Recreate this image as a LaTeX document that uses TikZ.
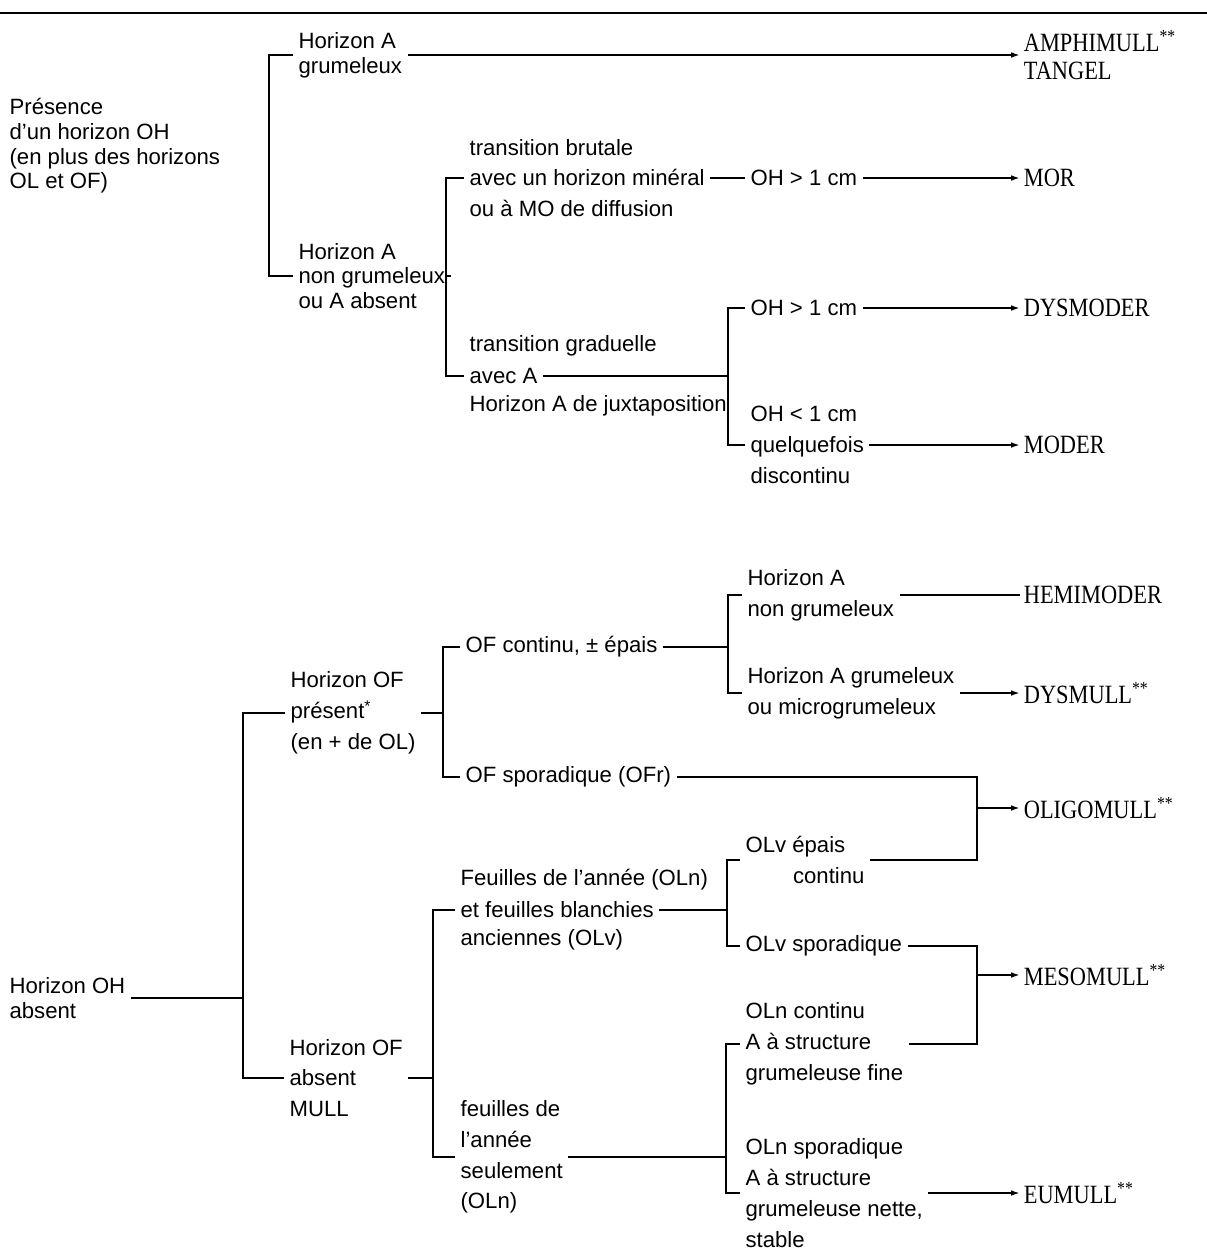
\documentclass[tikz,border=0pt]{standalone}
\usepackage{fontspec}
\setmainfont{Liberation Sans}
\newfontfamily\classfont[FakeStretch=0.85]{Liberation Serif}
\usetikzlibrary{arrows.meta}

\tikzset{
    txt/.style={anchor=west, align=left, inner xsep=3pt, inner ysep=1pt, font=\fontsize{12.6pt}{17.5pt}\selectfont},
    tight/.style={txt, font=\fontsize{12.6pt}{14pt}\selectfont},
    humus/.style={anchor=west, align=left, inner xsep=2pt, inner ysep=1pt, font=\classfont\fontsize{15pt}{16pt}\selectfont},
    link/.style={line width=1.1pt},
    arr/.style={link, -{Latex[length=5pt,width=3.2pt]}}
}

\begin{document}
\begin{tikzpicture}[x=0.02cm, y=-0.02cm]
    \useasboundingbox (0,0) rectangle (1207,1258);
    \draw[line width=1.7pt] (0,13) -- (1207,13);

    % --- avec horizon OH
    \node[tight] (pres) at (4,146) {Présence\\d'un horizon OH\\(en plus des horizons\\OL et OF)};
    \node[tight] (agrum) at (293,55) {Horizon A\\grumeleux};
    \node[tight] (anon) at (293,276) {Horizon A\\non grumeleux\\ou A absent};
    \node[txt] (brut) at (464,178) {transition brutale\\avec un horizon minéral\\ou à MO de diffusion};
    \node[txt] (gradtop) at (464,346) {transition graduelle};
    \node[txt] (grad) at (464,376) {avec A};
    \node[txt] (gradbot) at (464,406) {Horizon A de juxtaposition};
    \node[txt] (ohgt) at (745,178) {OH > 1 cm};
    \node[txt] (ohgtb) at (745,308) {OH > 1 cm};
    \node[txt] (ohlt) at (745,445) {OH < 1 cm\\quelquefois\\discontinu};

    \node[humus] (amphi) at (1020,55) {AMPHIMULL\textsuperscript{**}\\TANGEL};
    \node[humus] (mor) at (1020,178) {MOR};
    \node[humus] (dysmoder) at (1020,308) {DYSMODER};
    \node[humus] (moder) at (1020,445) {MODER};

    \coordinate (b2) at (446,276);
    \coordinate (b3) at (728,376);
    \draw[link] (agrum.west) -- ++(-24,0) |- (anon.west);
    \draw[link] (anon.east) -- (b2);
    \draw[link] (brut.west) -| (b2) |- (grad.west);
    \draw[link] (grad.east) -- (b3);
    \draw[link] (ohgtb.west) -| (b3) |- (ohlt.west);
    \draw[link] (brut.east) -- (ohgt.west);
    \draw[arr] (agrum.east) -- (amphi.west);
    \draw[arr] (ohgt.east) -- (mor.west);
    \draw[arr] (ohgtb.east) -- (dysmoder.west);
    \draw[arr] (ohlt.east) -- (moder.west);

    % --- sans horizon OH
    \node[tight] (ohabs) at (4,998) {Horizon OH\\absent};
    \node[txt] (ofpres) at (285,713) {Horizon OF\\présent\textsuperscript{*}\\(en + de OL)};
    \node[txt] (ofabs) at (284,1078) {Horizon OF\\absent\\MULL};
    \node[txt] (ofcont) at (460,647) {OF continu, ± épais};
    \node[txt] (ofspor) at (460,777) {OF sporadique (OFr)};
    \node[txt] (feuA) at (455,880) {Feuilles de l'année (OLn)};
    \node[txt] (feuB) at (455,910) {et feuilles blanchies};
    \node[txt] (feuC) at (455,940) {anciennes (OLv)};
    \node[txt] (feuseul) at (455,1157) {feuilles de\\l'année\\seulement\\(OLn)};
    \node[txt] (anonB) at (742,595) {Horizon A\\non grumeleux};
    \node[txt] (agrumB) at (742,693) {Horizon A grumeleux\\ou microgrumeleux};
    \node[txt] (olvep) at (740,860) {OLv épais\\\hspace*{0.95cm}continu};
    \node[txt] (olvsp) at (740,946) {OLv sporadique};
    \node[txt] (olncont) at (740,1044) {OLn continu\\A à structure\\grumeleuse fine};
    \node[txt] (olnspor) at (740,1193) {OLn sporadique\\A à structure\\grumeleuse nette,\\stable};

    \node[humus] (hemimoder) at (1020,595) {HEMIMODER};
    \node[humus] (dysmull) at (1020,693) {DYSMULL\textsuperscript{**}};
    \node[humus] (oligomull) at (1020,808) {OLIGOMULL\textsuperscript{**}};
    \node[humus] (mesomull) at (1020,975) {MESOMULL\textsuperscript{**}};
    \node[humus] (eumull) at (1020,1193) {EUMULL\textsuperscript{**}};

    \coordinate (c1) at (243,998);
    \coordinate (c2) at (443,713);
    \coordinate (c3) at (728,647);
    \coordinate (c4) at (433,1078);
    \coordinate (c5) at (727,910);
    \coordinate (c6) at (726,1157);
    \coordinate (j1) at (977,808);
    \coordinate (j2) at (977,975);
    \draw[link] (ohabs.east) -- (c1);
    \draw[link] (ofpres.west) -| (c1) |- (ofabs.west);
    \draw[link] (ofpres.east) -- (c2);
    \draw[link] (ofcont.west) -| (c2) |- (ofspor.west);
    \draw[link] (ofcont.east) -- (c3);
    \draw[link] (anonB.west) -| (c3) |- (agrumB.west);
    \draw[link] (anonB.east) -- (hemimoder.west);
    \draw[arr] (agrumB.east) -- (dysmull.west);
    \draw[link] (ofabs.east) -- (c4);
    \draw[link] (feuB.west) -| (c4) |- (feuseul.west);
    \draw[link] (feuB.east) -- (c5);
    \draw[link] (olvep.west) -| (c5) |- (olvsp.west);
    \draw[link] (feuseul.east) -- (c6);
    \draw[link] (olncont.west) -| (c6) |- (olnspor.west);
    \draw[link] (ofspor.east) -| (j1) |- (olvep.east);
    \draw[arr] (j1) -- (oligomull.west);
    \draw[link] (olvsp.east) -| (j2) |- (olncont.east);
    \draw[arr] (j2) -- (mesomull.west);
    \draw[arr] (olnspor.east) -- (eumull.west);
\end{tikzpicture}
\end{document}
